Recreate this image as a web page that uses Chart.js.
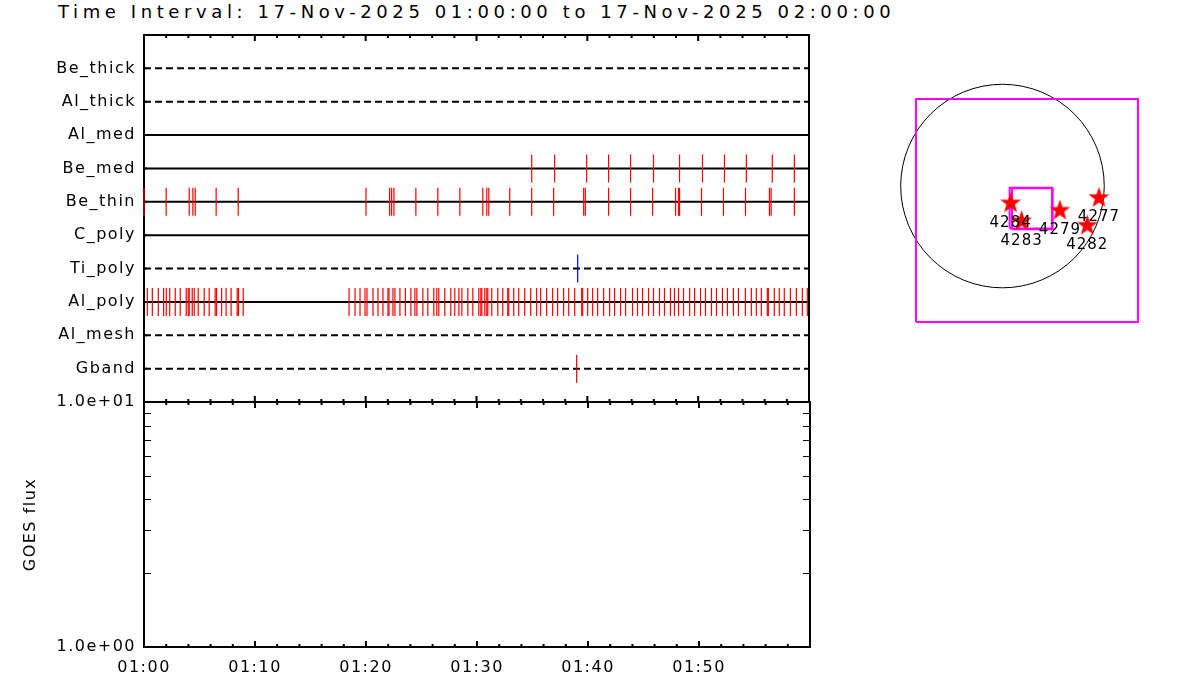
<!DOCTYPE html>
<html>
<head>
<meta charset="utf-8">
<script src="https://cdn.jsdelivr.net/npm/chart.js@4.4.1/dist/chart.umd.min.js"></script>
<style>
  html, body { margin: 0; padding: 0; background: #fff; }
  #wrap { position: relative; width: 1200px; height: 700px; overflow: hidden; }
  canvas { position: absolute; left: 0; top: 0; }
  #title {
    position: absolute; left: 58px; top: 3px;
    font-family: "DejaVu Sans"; font-size: 18px; line-height: 18px;
    letter-spacing: 4.6px; white-space: nowrap; color: #000;
  }
</style>
</head>
<body>
<div id="wrap">
  <div id="title">Time Interval: 17-Nov-2025 01:00:00 to 17-Nov-2025 02:00:00</div>
  <canvas id="rates" width="1200" height="700"></canvas>
  <canvas id="goes" width="1200" height="700"></canvas>
  <canvas id="disk" width="1200" height="700"></canvas>
</div>
<script>
// filter rows, top to bottom
const filters = ["Be_thick", "Al_thick", "Al_med", "Be_med", "Be_thin", "C_poly", "Ti_poly", "Al_poly", "Al_mesh", "Gband"];
const dashedRows = ["Be_thick", "Al_thick", "Ti_poly", "Al_mesh", "Gband"];

// exposure times, minutes after 01:00
const beMedTimes = [34.98, 37.05, 39.94, 41.92, 43.9, 45.97, 48.32, 50.39, 52.37, 54.35, 56.69, 58.68];
const beThinTimes = [0.0, 2.0, 4.08, 4.41, 4.62, 6.51, 8.5, 20.03, 22.16, 22.34, 22.55, 24.53, 26.51, 28.5,
  30.57, 30.93, 31.11, 33.0, 34.98, 36.96, 39.67, 39.82, 41.92, 43.9, 45.89, 47.96, 48.23, 48.32,
  50.3, 52.28, 54.27, 56.43, 56.58, 58.68];
const tiPolyTimes = [39.13];
const alPolyTimes = [0.30, 0.75, 1.29, 1.77, 2.01, 2.32, 2.82, 3.27, 3.81, 3.99, 4.08, 4.35, 4.53, 4.89,
  5.43, 5.88, 6.42, 6.55, 7.00, 7.41, 7.86, 8.41, 8.53, 8.95,
  18.50, 19.04, 19.49, 19.94, 20.12, 20.66, 21.11, 21.56, 22.01, 22.10, 22.46, 22.64, 23.09, 23.58,
  24.08, 24.44, 24.62, 25.16, 25.61, 26.15, 26.42, 26.60, 27.14, 27.68, 28.04, 28.41, 28.68, 29.22,
  29.67, 30.21, 30.39, 30.48, 30.75, 30.93, 31.02, 31.38, 31.92, 32.37, 32.82, 32.91, 33.36, 33.81,
  34.35, 34.89, 35.43, 35.79, 36.33, 36.87, 37.32, 37.86, 38.32, 38.86, 39.49, 39.58, 40.03, 40.48,
  40.93, 41.47, 42.01, 42.46, 43.00, 43.45, 44.08, 44.53, 44.98, 45.52, 45.97, 46.51, 46.96, 47.50,
  47.86, 48.23, 48.68, 49.23, 49.68, 50.21, 50.66, 51.20, 51.65, 52.19, 52.64, 53.18, 53.63, 54.26,
  54.80, 55.25, 55.70, 56.24, 56.33, 56.87, 57.32, 57.77, 58.32, 58.86, 59.40, 59.85];
const gbandTimes = [39.04];

const timeLabels = ["01:00", "01:10", "01:20", "01:30", "01:40", "01:50"];
const fluxLabels = { 1: "1.0e+00", 10: "1.0e+01" };

// disk map, arcsec
const sunRadius = 960;
const fovBox = [-816, 1278, -1283, 820];   // x1, x2, y1, y2
const zoomBoxA = [68, 468, -400, -16];
const zoomBoxB = [90, 473, -408, -20];
const regionNums = ["4284", "4283", "4279", "4277", "4282"];
const regionX = [77, 181, 542, 910, 800];
const regionY = [-157, -327, -226, -107, -368];

Chart.defaults.font.family = "DejaVu Sans";
Chart.defaults.font.size = 16;
Chart.defaults.color = "#000";

const spacing = {
  id: "spacing",
  beforeDraw(chart) { chart.ctx.letterSpacing = "1.5px"; }
};

// time axis ticks, inward
function timeTicks(ctx, x, yPos, dir) {
  ctx.beginPath();
  for (let m = 0; m <= 60; m += 2) {
    const px = x.getPixelForValue(m);
    const len = m % 10 === 0 ? 6 : 3;
    ctx.moveTo(px, yPos);
    ctx.lineTo(px, yPos + dir * len);
  }
  ctx.stroke();
}

const rateFrame = {
  id: "rateFrame",
  beforeDatasetsDraw(chart) {
    const { ctx, chartArea: a, scales: { x, y } } = chart;
    ctx.save();
    ctx.strokeStyle = "#000";
    ctx.lineWidth = 2;
    ctx.strokeRect(a.left, a.top, a.right - a.left, a.bottom - a.top);
    timeTicks(ctx, x, a.top, 1);
    timeTicks(ctx, x, a.bottom, -1);
    ctx.beginPath();
    filters.forEach((f, i) => {
      const py = y.getPixelForValue(i + 1);
      ctx.moveTo(a.left, py);
      ctx.lineTo(a.left + 3, py);
    });
    ctx.stroke();
    ctx.restore();
  }
};

const goesFrame = {
  id: "goesFrame",
  afterDatasetsDraw(chart) {
    const { ctx, chartArea: a, scales: { x, y } } = chart;
    ctx.save();
    ctx.strokeStyle = "#000";
    ctx.lineWidth = 2;
    ctx.strokeRect(a.left, a.top, a.right - a.left, a.bottom - a.top);
    timeTicks(ctx, x, a.top, 1);
    timeTicks(ctx, x, a.bottom, -1);
    ctx.lineWidth = 1;
    ctx.beginPath();
    y.ticks.filter(t => Number.isInteger(t.value) && t.value > 1 && t.value < 10).forEach(t => {
      const py = Math.round(y.getPixelForValue(t.value)) + 0.5;
      ctx.moveTo(a.left, py); ctx.lineTo(a.left + 7, py);
      ctx.moveTo(a.right, py); ctx.lineTo(a.right - 7, py);
    });
    ctx.stroke();
    ctx.restore();
  }
};

// --- top panel: filter exposures ---
const rowLabels = [""].concat(filters, [""]);
const lineSets = filters.map(f => ({
  type: "line",
  data: [{ x: 0, y: f }, { x: 60, y: f }],
  borderColor: "#000",
  borderWidth: 2,
  borderDash: dashedRows.includes(f) ? [7, 4] : [],
  pointRadius: 0,
  order: 2
}));
function markSet(times, row, color) {
  return {
    data: times.map(t => ({ x: t, y: row })),
    pointStyle: "line",
    rotation: 90,
    pointRadius: 14,
    borderColor: color,
    borderWidth: 1.2,
    clip: false,
    order: 1
  };
}

new Chart(document.getElementById("rates"), {
  type: "scatter",
  data: {
    datasets: [
      markSet(beMedTimes, "Be_med", "#ff0000"),
      markSet(beThinTimes, "Be_thin", "#ff0000"),
      markSet(tiPolyTimes, "Ti_poly", "#0000ff"),
      markSet(alPolyTimes, "Al_poly", "#ff0000"),
      markSet(gbandTimes, "Gband", "#dd0000")
    ].concat(lineSets)
  },
  options: {
    responsive: false,
    animation: false,
    devicePixelRatio: 1,
    layout: { padding: { left: 0, top: 35, right: 391, bottom: 298 } },
    plugins: { legend: { display: false }, tooltip: { enabled: false } },
    scales: {
      x: { type: "linear", min: 0, max: 60, display: false },
      y: {
        type: "category",
        labels: rowLabels,
        grid: { display: false, drawTicks: false },
        border: { display: false },
        ticks: { padding: 8, autoSkip: false, color: "#000" },
        afterFit: s => { s.width = 144; }
      }
    }
  },
  plugins: [spacing, rateFrame]
});

// --- bottom panel: GOES flux ---
new Chart(document.getElementById("goes"), {
  type: "scatter",
  data: { datasets: [] },
  options: {
    responsive: false,
    animation: false,
    devicePixelRatio: 1,
    layout: { padding: { left: 0, top: 402, right: 390, bottom: 0 } },
    plugins: { legend: { display: false }, tooltip: { enabled: false } },
    scales: {
      x: {
        type: "linear", min: 0, max: 60,
        grid: { display: false, drawTicks: false },
        border: { display: false },
        ticks: {
          stepSize: 10, padding: 11, autoSkip: false, maxRotation: 0,
          callback: v => timeLabels[v / 10] ?? ""
        },
        afterFit: s => { s.height = 53; }
      },
      y: {
        type: "logarithmic", min: 1, max: 10,
        grid: { display: false, drawTicks: false },
        border: { display: false },
        ticks: { padding: 8, autoSkip: false, callback: v => fluxLabels[v] ?? "" },
        title: { display: true, text: "GOES flux", padding: { top: 21, bottom: 0 } },
        afterFit: s => { s.width = 144; }
      }
    }
  },
  plugins: [spacing, goesFrame]
});

// --- disk map ---
function boxPoints(b) {
  return [
    { x: b[0], y: b[2] }, { x: b[1], y: b[2] }, { x: b[1], y: b[3] },
    { x: b[0], y: b[3] }, { x: b[0], y: b[2] }
  ];
}
function boxSet(b) {
  return {
    type: "line", data: boxPoints(b), borderColor: "#ff00ff", borderWidth: 2,
    pointRadius: 0, order: 2
  };
}

const starImg = document.createElement("canvas");
starImg.width = 23;
starImg.height = 23;
(function () {
  const c = starImg.getContext("2d");
  c.fillStyle = "#ff0000";
  c.beginPath();
  for (let k = 0; k < 10; k++) {
    const r = k % 2 === 0 ? 11 : 4.4;
    const ang = -Math.PI / 2 + k * Math.PI / 5;
    const px = 11.5 + r * Math.cos(ang), py = 12 + r * Math.sin(ang);
    if (k === 0) c.moveTo(px, py); else c.lineTo(px, py);
  }
  c.closePath();
  c.fill();
})();

const diskPlugin = {
  id: "diskPlugin",
  beforeDatasetsDraw(chart) {
    const { ctx, scales: { x, y } } = chart;
    const cx = x.getPixelForValue(0), cy = y.getPixelForValue(0);
    const r = x.getPixelForValue(sunRadius) - cx;
    ctx.save();
    ctx.strokeStyle = "#000";
    ctx.lineWidth = 1;
    ctx.beginPath();
    ctx.arc(cx, cy, r, 0, Math.PI * 2);
    ctx.stroke();
    ctx.restore();
  },
  afterDatasetsDraw(chart) {
    const { ctx } = chart;
    const meta = chart.getDatasetMeta(0);
    ctx.save();
    ctx.font = "15px 'DejaVu Sans'";
    ctx.letterSpacing = "1px";
    ctx.fillStyle = "#000";
    ctx.textAlign = "center";
    ctx.textBaseline = "middle";
    meta.data.forEach((pt, i) => {
      ctx.fillText(regionNums[i], pt.x, pt.y + 20);
    });
    ctx.restore();
  }
};

new Chart(document.getElementById("disk"), {
  type: "scatter",
  data: {
    datasets: [
      {
        data: regionNums.map((n, i) => ({ x: regionX[i], y: regionY[i] })),
        pointStyle: starImg,
        pointRadius: 11,
        order: 1
      },
      boxSet(fovBox),
      boxSet(zoomBoxA),
      boxSet(zoomBoxB)
    ]
  },
  options: {
    responsive: false,
    animation: false,
    devicePixelRatio: 1,
    layout: { padding: { left: 875.25, top: 69.4, right: 38.5, bottom: 354.9 } },
    plugins: { legend: { display: false }, tooltip: { enabled: false } },
    scales: {
      x: { type: "linear", min: -1200, max: 1500, display: false },
      y: { type: "linear", min: -1500, max: 1100, display: false }
    }
  },
  plugins: [diskPlugin]
});
</script>
</body>
</html>
